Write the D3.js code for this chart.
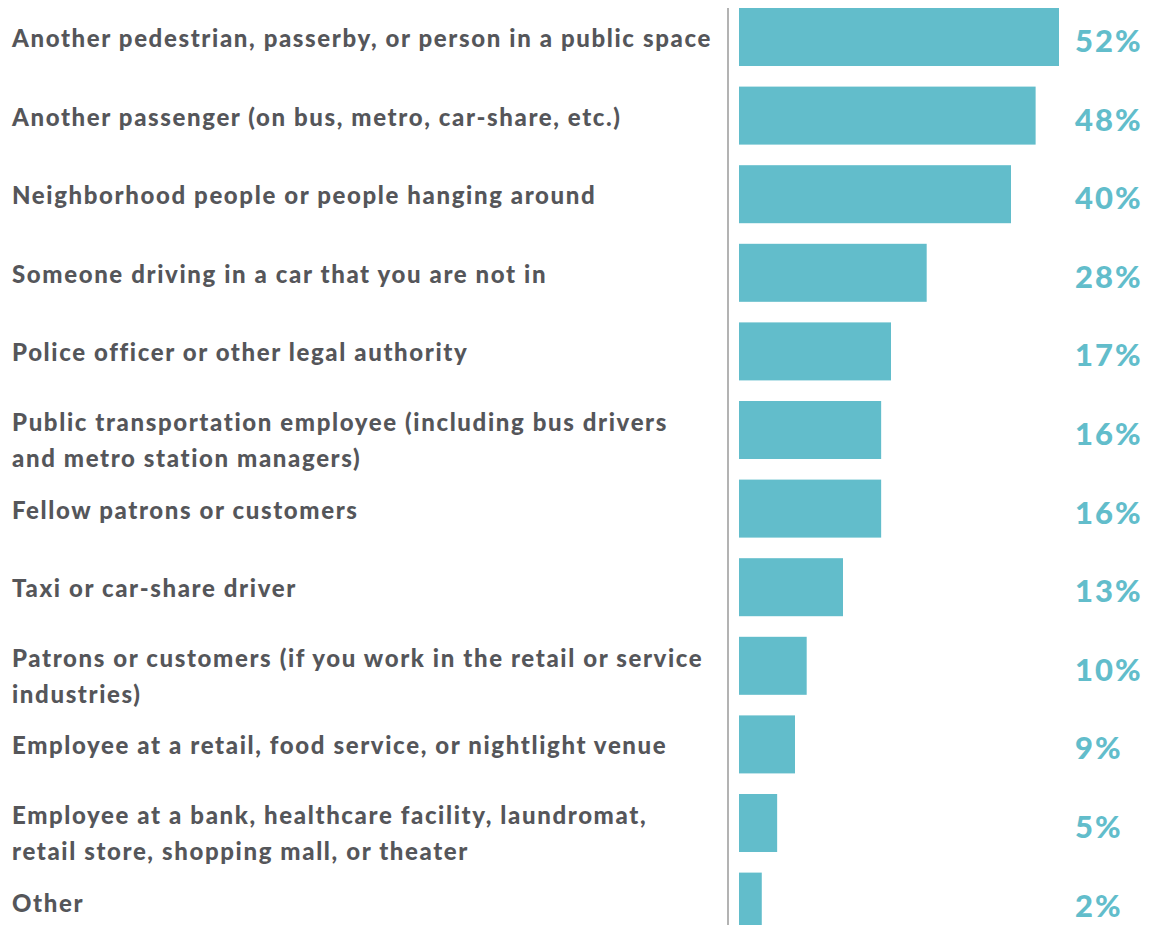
<!DOCTYPE html>
<html>
<head>
<meta charset="utf-8">
<script src="https://cdn.jsdelivr.net/npm/d3@7"></script>
<style>
  html, body { margin: 0; padding: 0; background: #fff; }
  svg { display: block; }
</style>
</head>
<body>
<svg id="chart" width="1154" height="925"></svg>
<script>
// categories, one or two lines each
const categories = [
  ['Another pedestrian, passerby, or person in a public space'],
  ['Another passenger (on bus, metro, car-share, etc.)'],
  ['Neighborhood people or people hanging around'],
  ['Someone driving in a car that you are not in'],
  ['Police officer or other legal authority'],
  ['Public transportation employee (including bus drivers', 'and metro station managers)'],
  ['Fellow patrons or customers'],
  ['Taxi or car-share driver'],
  ['Patrons or customers (if you work in the retail or service', 'industries)'],
  ['Employee at a retail, food service, or nightlight venue'],
  ['Employee at a bank, healthcare facility, laundromat,', 'retail store, shopping mall, or theater'],
  ['Other']
];

// bar lengths as drawn
const barValues = [52, 48.2, 44.2, 30.5, 24.7, 23.1, 23.1, 16.9, 11.0, 9.1, 6.2, 3.7];

// printed value labels
const valueLabels = ['52%', '48%', '40%', '28%', '17%', '16%', '16%', '13%', '10%', '9%', '5%', '2%'];

const teal = '#62bdcb';
const gray = '#55565a';

const svg = d3.select('#chart');
const margin = { top: 8, left: 739, axis: 728, label: 1075 };

const ids = categories.map((c, i) => i);
const y = d3
  .scaleBand()
  .domain(ids)
  .range([margin.top, margin.top + 78.6 * (ids.length - 0.262)])
  .paddingInner(0.262)
  .paddingOuter(0);

const x = d3.scaleLinear().domain([0, 52]).range([0, 320]);

// bars
svg
  .append('g')
  .selectAll('rect')
  .data(barValues)
  .join('rect')
  .attr('x', margin.left)
  .attr('y', (d, i) => y(i))
  .attr('width', d => x(d))
  .attr('height', y.bandwidth())
  .attr('fill', teal);

// vertical baseline
svg
  .append('line')
  .attr('x1', margin.axis)
  .attr('x2', margin.axis)
  .attr('y1', margin.top)
  .attr('y2', 925)
  .attr('stroke', '#b3b3b3')
  .attr('stroke-width', 2);

// category labels
const cat = svg
  .append('g')
  .selectAll('text')
  .data(categories)
  .join('text')
  .attr('x', 12)
  .attr('y', (d, i) => {
    const mid = y(i) + y.bandwidth() / 2;
    return d.length > 1 ? mid + 1 : mid + 10;
  })
  .attr('font-family', 'Lato, sans-serif')
  .attr('font-weight', 900)
  .attr('font-size', 24)
  .attr('letter-spacing', 1.62)
  .attr('fill', gray);

cat
  .selectAll('tspan')
  .data(d => d)
  .join('tspan')
  .attr('x', 12)
  .attr('dy', (d, j) => (j === 0 ? 0 : 36))
  .text(d => d);

// value labels
svg
  .append('g')
  .selectAll('text')
  .data(valueLabels)
  .join('text')
  .attr('x', margin.label)
  .attr('y', (d, i) => y(i) + y.bandwidth() / 2 + 15)
  .attr('font-family', 'Lato, sans-serif')
  .attr('font-weight', 900)
  .attr('font-size', 31)
  .attr('letter-spacing', 2)
  .attr('fill', teal)
  .text(d => d);
</script>
</body>
</html>
